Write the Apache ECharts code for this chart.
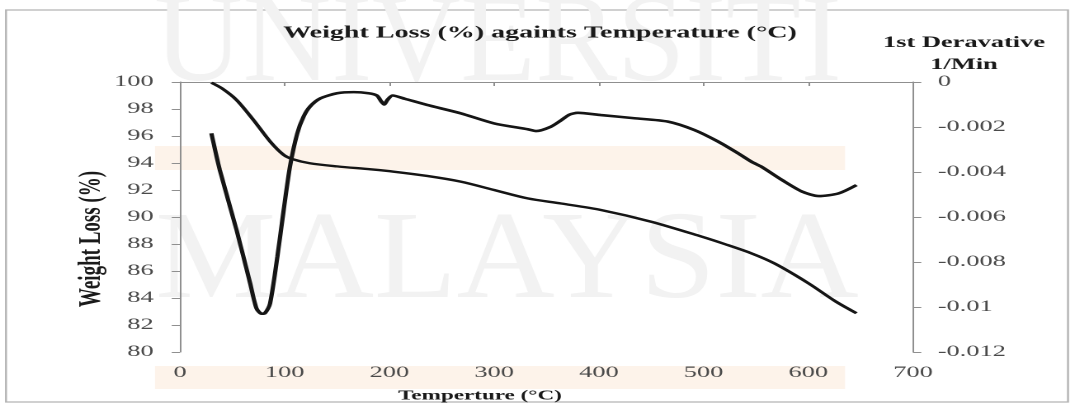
<!DOCTYPE html>
<html>
<head>
<meta charset="utf-8">
<script src="https://cdn.jsdelivr.net/npm/echarts@6/dist/echarts.min.js"></script>
<style>
  html, body { margin: 0; padding: 0; background: #ffffff; overflow: hidden; }
  #wrap { width: 1071px; height: 406px; overflow: hidden; position: relative; }
  /* the chart is laid out in a narrow frame and widened horizontally */
  #chart { width: 649px; height: 406px; transform: scaleX(1.65); transform-origin: 0 0; }
</style>
</head>
<body>
<div id="wrap"><div id="chart"></div></div>
<script>
// Horizontal widening applied to the whole drawing
const STRETCH = 1.65;

// Weight remaining (%) against temperature (°C)
const tgTemp   = [30, 40, 54, 70, 86, 99, 108, 124, 150, 182, 204, 236, 268, 300, 332, 364, 402, 450, 498, 520, 546, 568, 600, 626, 646];
const tgWeight = [99.95, 99.53, 98.67, 97.2, 95.6, 94.6, 94.27, 93.98, 93.75, 93.53, 93.36, 93.04, 92.62, 92.0, 91.38, 91.0, 90.52, 89.65, 88.55, 88.0, 87.3, 86.55, 85.1, 83.75, 82.87];

// First derivative of the weight curve (1/min)
const dtgTemp = [30, 38, 54, 67, 73, 78, 81, 86, 93, 99, 105, 112, 118, 124, 134, 150, 166, 180, 188, 192, 195, 198, 203, 215, 236, 268, 300, 332, 340, 354, 364, 372, 380, 402, 434, 466, 491, 514, 533, 546, 555, 575, 594, 610, 629, 646];
const dtgRate = [-0.00228, -0.00391, -0.00658, -0.00895, -0.01006, -0.0103, -0.01028, -0.00984, -0.00776, -0.00569, -0.00376, -0.00228, -0.00154, -0.0011, -0.00073, -0.0005, -0.00045, -0.0005, -0.0006, -0.00085, -0.001, -0.0008, -0.0006, -0.00075, -0.00102, -0.00139, -0.00184, -0.0021, -0.00218, -0.00199, -0.0017, -0.00145, -0.00137, -0.00147, -0.00161, -0.00176, -0.00213, -0.00265, -0.00317, -0.00355, -0.00376, -0.00436, -0.00487, -0.00507, -0.00495, -0.00458];

// Axis ranges
const tempAxis   = { min: 0, max: 700, step: 100 };
const weightAxis = { min: 80, max: 100, step: 2 };
const rateAxis   = { min: -0.012, max: 0, step: 0.002 };

// Text
const chartTitle  = 'Weight Loss (%) againts Temperature (°C)';
const xTitle      = 'Temperture (°C)';
const leftTitle   = 'Weight Loss (%)';
const rightTitle  = '1st Deravative\n1/Min';
const markTop     = 'UNIVERSITI';
const markBottom  = 'MALAYSIA';

const pair = (xs, ys) => xs.map((x, i) => [x, ys[i]]);
const sx = v => v / STRETCH;   // page x -> frame x

const SERIF = '"Liberation Serif", "Times New Roman", serif';
const AXIS_GRAY = '#8f8f8f';
const LABEL = { fontFamily: SERIF, fontSize: 16, color: '#4a4a4a' };

const chart = echarts.init(document.getElementById('chart'), null, { renderer: 'canvas', devicePixelRatio: 2 });

chart.setOption({
  backgroundColor: '#ffffff',
  animation: false,
  grid: { left: sx(180), right: 649 - sx(913), top: 82, bottom: 54, containLabel: false },
  xAxis: {
    type: 'value',
    min: tempAxis.min, max: tempAxis.max, interval: tempAxis.step,
    axisLine: { show: true, lineStyle: { color: AXIS_GRAY, width: 1 } },
    axisTick: { show: true, inside: false, length: 4, lineStyle: { color: AXIS_GRAY } },
    splitLine: { show: false },
    axisLabel: Object.assign({ margin: 13 }, LABEL)
  },
  yAxis: [
    {
      type: 'value', position: 'left',
      min: weightAxis.min, max: weightAxis.max, interval: weightAxis.step,
      axisLine: { show: true, lineStyle: { color: AXIS_GRAY, width: 1 } },
      axisTick: { show: true, inside: false, length: 5, lineStyle: { color: AXIS_GRAY } },
      splitLine: { show: false },
      axisLabel: Object.assign({ margin: 16 }, LABEL)
    },
    {
      type: 'value', position: 'right',
      min: rateAxis.min, max: rateAxis.max, interval: rateAxis.step,
      axisLine: { show: true, lineStyle: { color: AXIS_GRAY, width: 1 } },
      axisTick: { show: true, inside: false, length: 5, lineStyle: { color: AXIS_GRAY } },
      splitLine: { show: false },
      axisLabel: Object.assign({ margin: 15 }, LABEL)
    }
  ],
  graphic: [
    // outer frame
    { type: 'rect', silent: true, z: -20,
      shape: { x: sx(6), y: 10, width: sx(1062), height: 392 },
      style: { fill: 'none', stroke: '#b4b4b4', lineWidth: 1.2 } },
    // pale highlight strips
    { type: 'rect', silent: true, z: -15,
      shape: { x: sx(155), y: 146, width: sx(690), height: 24 },
      style: { fill: '#fdf3ea' } },
    { type: 'rect', silent: true, z: -15,
      shape: { x: sx(155), y: 366, width: sx(690), height: 23 },
      style: { fill: '#fdf3ea' } },
    // watermark lettering
    { type: 'text', silent: true, z: -10, x: sx(498), y: 47, scaleX: 0.98 / STRETCH,
      style: { text: markTop, fontFamily: SERIF, fontSize: 125, fill: '#f2f2f2', align: 'center', verticalAlign: 'middle' } },
    { type: 'text', silent: true, z: -10, x: sx(507), y: 264, scaleX: 1.085 / STRETCH,
      style: { text: markBottom, fontFamily: SERIF, fontSize: 125, fill: '#f2f2f2', align: 'center', verticalAlign: 'middle' } },
    // titles
    { type: 'text', silent: true, z: 10, x: sx(540), y: 33,
      style: { text: chartTitle, fontFamily: SERIF, fontWeight: 'bold', fontSize: 17, fill: '#1a1a1a', align: 'center', verticalAlign: 'middle' } },
    { type: 'text', silent: true, z: 10, x: sx(964), y: 54,
      style: { text: rightTitle, fontFamily: SERIF, fontWeight: 'bold', fontSize: 16, lineHeight: 22, fill: '#1a1a1a', align: 'center', verticalAlign: 'middle' } },
    { type: 'text', silent: true, z: 10, x: sx(92), y: 239, rotation: Math.PI / 2,
      style: { text: leftTitle, fontFamily: SERIF, fontWeight: 'bold', fontSize: 19, fill: '#1a1a1a', align: 'center', verticalAlign: 'middle' } },
    { type: 'text', silent: true, z: 10, x: sx(480), y: 396,
      style: { text: xTitle, fontFamily: SERIF, fontWeight: 'bold', fontSize: 14, fill: '#1a1a1a', align: 'center', verticalAlign: 'middle' } }
  ],
  series: [
    {
      name: 'Weight', type: 'line', yAxisIndex: 0,
      data: pair(tgTemp, tgWeight),
      showSymbol: false, smooth: 0.3,
      lineStyle: { color: '#151515', width: 2.4 }
    },
    {
      name: 'Derivative', type: 'line', yAxisIndex: 1,
      data: pair(dtgTemp, dtgRate),
      showSymbol: false, smooth: 0.25,
      lineStyle: { color: '#151515', width: 2.6 }
    }
  ]
});
</script>
</body>
</html>
